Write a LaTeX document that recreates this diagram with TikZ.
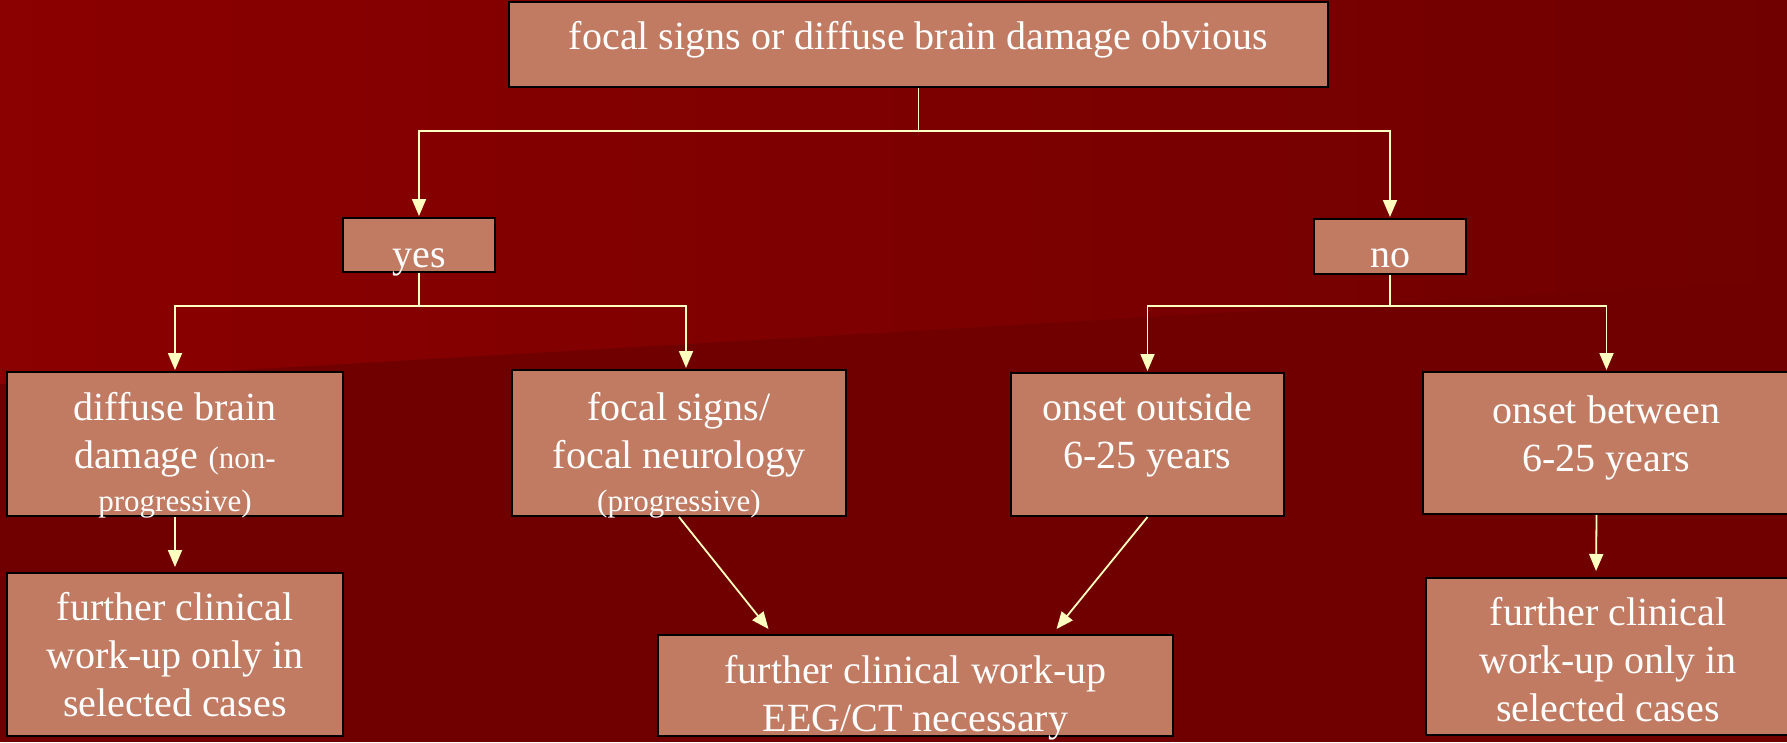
\documentclass[tikz,border=0pt]{standalone}
\usepackage{fontspec}
\setmainfont{Liberation Serif}
\usepackage{tikz}
\usetikzlibrary{positioning, arrows.meta}

\definecolor{bgtop}{HTML}{8B0000}
\definecolor{bgdark}{HTML}{700000}
\definecolor{boxfill}{HTML}{C07B62}
\definecolor{arrowcol}{HTML}{FFFFC0}

\newcommand{\boxfont}{\fontsize{40}{48}\selectfont}
\newcommand{\subtxt}{\fontsize{31}{37}\selectfont}

\begin{document}
\begin{tikzpicture}[
    x=1pt, y=-1pt,
    box/.style={rectangle, draw=black, line width=2pt, fill=boxfill, inner sep=0pt},
    txt/.style={anchor=base, align=flush center, text=white, inner sep=0pt, text width=340pt, font=\boxfont},
    link/.style={draw=arrowcol, line width=1.8pt},
    arrow/.style={link, -{Triangle[length=17pt, width=14pt]}}
]

\useasboundingbox (0,0) rectangle (1787,742);
\fill[bgdark] (0,0) rectangle (1787,742);
\shade[left color=bgtop, right color=bgdark] (0,0) -- (1787,0) -- (1787,280) -- (0,384) -- cycle;

\node[box, minimum width=819pt, minimum height=85pt] (top) at (918.5,44.5) {};
\node[box, minimum width=152pt, minimum height=54pt] (yes) at (419,245) {};
\node[box, minimum width=152pt, minimum height=55pt] (no) at (1390,246.5) {};
\node[box, minimum width=336pt, minimum height=144pt] (diffuse) at (175,444) {};
\node[box, minimum width=334pt, minimum height=146pt] (focal) at (679,443) {};
\node[box, minimum width=273pt, minimum height=143pt] (outside) at (1147.5,444.5) {};
\node[box, minimum width=367pt, minimum height=142pt] (between) at (1606.5,443) {};
\node[box, minimum width=336pt, minimum height=163pt] (workupL) at (175,654.5) {};
\node[box, minimum width=515pt, minimum height=101pt] (workupC) at (915.5,685.5) {};
\node[box, minimum width=364pt, minimum height=157pt] (workupR) at (1608,656.5) {};

\node[txt, text width=800pt] (topText) at (918.5,49) {focal signs or diffuse brain damage obvious};
\node[txt] (yesText) at (419,267) {yes};
\node[txt] (noText) at (1390,267) {no};
\node[txt] (diffuseText) at (175,420) {diffuse brain\\damage {\subtxt (non-}\\[-5pt]{\subtxt progressive)}};
\node[txt] (focalText) at (679,420) {focal signs/\\focal neurology\\[-5pt]{\subtxt (progressive)}};
\node[txt] (outsideText) at (1147.5,420) {onset outside\\6-25 years};
\node[txt] (betweenText) at (1606.5,423) {onset between\\6-25 years};
\node[txt] (workupLText) at (175,620) {further clinical\\work-up only in\\selected cases};
\node[txt, text width=500pt] (workupCText) at (915.5,683) {further clinical work-up\\EEG/CT necessary};
\node[txt] (workupRText) at (1608,625) {further clinical\\work-up only in\\selected cases};

\draw[arrow, shorten >=1pt] (top.south) -- ++(0,43) -| (yes.north);
\draw[arrow, shorten >=1pt] (top.south) -- ++(0,43) -| (no.north);
\draw[arrow, shorten >=1pt] (yes.south) -- ++(0,33) -| (diffuse.north);
\draw[arrow, shorten >=1pt] (yes.south) -- ++(0,33) -| ([xshift=7pt]focal.north);
\draw[arrow, shorten >=1pt] (no.south) -- ++(0,31) -| (outside.north);
\draw[arrow, shorten >=1pt] (no.south) -- ++(0,31) -| (between.north);

\draw[arrow, shorten >=5pt] (diffuse.south) -- (workupL.north);
\draw[arrow] (focal.south) -- ([xshift=-147pt,yshift=5pt]workupC.north);
\draw[arrow] (outside.south) -- ([xshift=141pt,yshift=5pt]workupC.north);
\draw[arrow, shorten >=6pt] ([xshift=-10pt]between.south) -- ([xshift=-12pt]workupR.north);

\end{tikzpicture}
\end{document}
